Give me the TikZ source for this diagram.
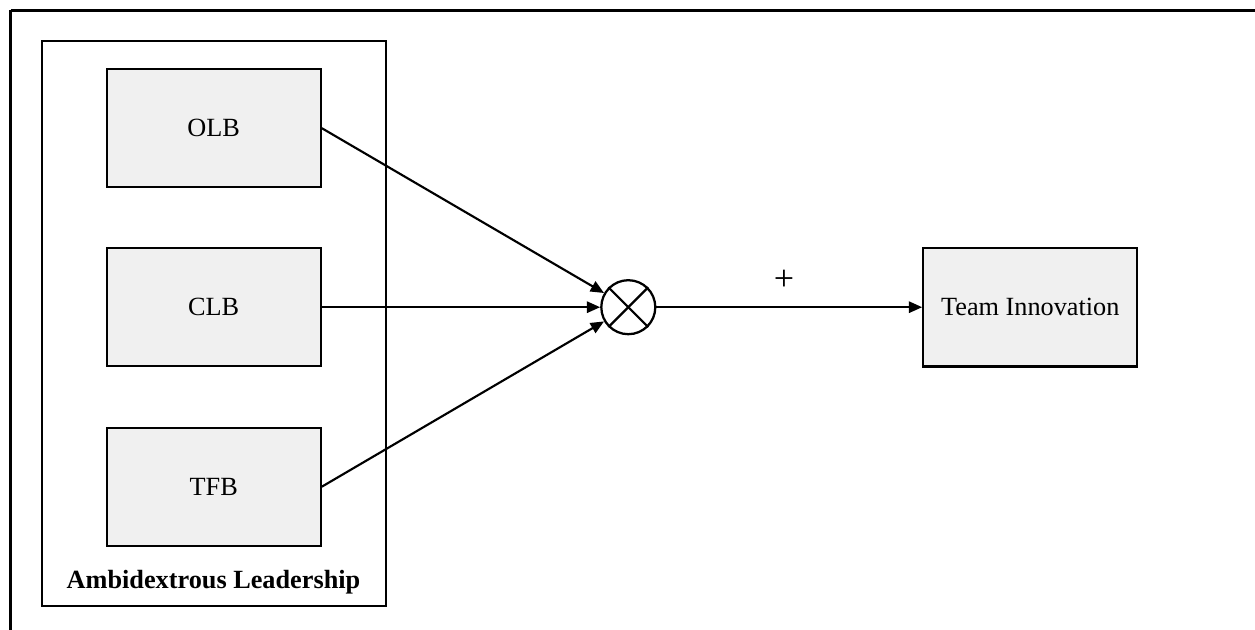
\documentclass[tikz,border=0pt]{standalone}
\usepackage{fontspec}
\setmainfont{Liberation Serif}
\usetikzlibrary{arrows.meta}
\definecolor{boxgray}{RGB}{240,240,240}
\begin{document}
\begin{tikzpicture}[x=0.75pt,y=-0.75pt,
  txt/.style={font=\fontsize{19.7}{23}\selectfont},
  box/.style={draw, line width=1.7pt, fill=boxgray, minimum width=160.5pt, minimum height=88.5pt, inner sep=0pt, txt},
  arr/.style={-{Triangle[length=10pt,width=8.5pt]}, line width=1.6pt},
  mult/.style={draw, circle, line width=1.7pt, minimum size=40.5pt, inner sep=0pt}
]
\useasboundingbox (0,0) rectangle (1255,630);
\fill[white] (0,0) rectangle (1255,630);
\coordinate (tl) at (10.5,10.5);
\coordinate (tr) at (1255,10.5);
\coordinate (bl) at (10.5,630);
\draw[line width=2.6pt] (tl) -- (tr);
\draw[line width=2pt] (bl) -- (tl);

\node (group) [draw, line width=1.7pt, minimum width=258pt, minimum height=423.75pt, inner sep=0pt] at (213.7,323.2) {};
\node (olb) [box] at (213.7,128.2) {OLB};
\node (clb) [box] at (213.7,307.2) {CLB};
\node (tfb) [box] at (213.7,486.7) {TFB};
\node (amb) [txt, font=\fontsize{19.7}{23}\selectfont\bfseries] at (213.5,582) {Ambidextrous Leadership};

\node (x) [mult] at (628.3,307.2) {};
\draw[line width=1.7pt] (x.north west) -- (x.south east);
\draw[line width=1.7pt] (x.north east) -- (x.south west);

\node (team) [box, minimum height=89pt] at (1030.3,307.2) {Team Innovation};
\node (plus) [font=\fontsize{27}{30}\selectfont] at (784,280) {+};

\draw[arr] (olb.east) -- (x);
\draw[arr] (clb.east) -- (x);
\draw[arr] (tfb.east) -- (x);
\draw[arr] (x) -- (team);
\end{tikzpicture}
\end{document}
